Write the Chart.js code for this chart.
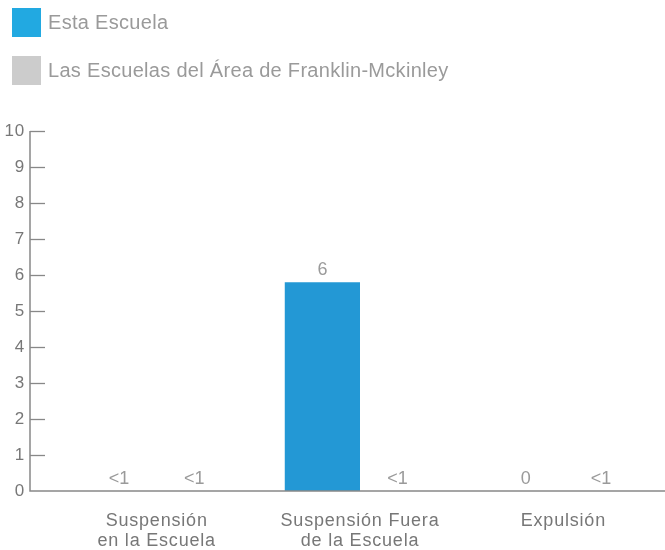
<!DOCTYPE html>
<html>
<head>
<meta charset="utf-8">
<script src="https://cdn.jsdelivr.net/npm/chart.js@4"></script>
<style>
  html, body { margin: 0; padding: 0; background: #fff; }
  #wrap { position: relative; width: 665px; height: 550px; }
  #legend { position: absolute; left: 0; top: 0; font-family: "Liberation Sans", Arial, sans-serif; font-size: 20px; letter-spacing: 0.3px; color: #9a9a9a; }
  .item { position: absolute; left: 12px; white-space: nowrap; }
  .sw { position: absolute; left: 0; top: 0; width: 29px; height: 29px; }
  .lt { position: absolute; left: 36px; top: 3px; line-height: 23px; }
  canvas { position: absolute; left: 0; top: 0; }
</style>
</head>
<body>
<div id="wrap">
  <canvas id="c" width="665" height="550"></canvas>
  <div id="legend"></div>
</div>
<script>
const categories = [["Suspensión", "en la Escuela"], ["Suspensión Fuera", "de la Escuela"], ["Expulsión"]];
const seriesNames = ["Esta Escuela", "Las Escuelas del Área de Franklin-Mckinley"];
const estaValues = [0, 5.8, 0];
const areaValues = [0, 0, 0];
const estaLabels = ["<1", "6", "0"];
const areaLabels = ["<1", "<1", "<1"];
const yTicks = [0, 1, 2, 3, 4, 5, 6, 7, 8, 9, 10];

const legendColors = ["#22a9e1", "#cccccc"];
const barColors = ["#2398d5", "#cccccc"];

// HTML legend
const legend = document.getElementById('legend');
seriesNames.forEach((name, i) => {
  const it = document.createElement('div');
  it.className = 'item';
  it.style.top = (8 + i * 48) + 'px';
  const sw = document.createElement('div');
  sw.className = 'sw';
  sw.style.background = legendColors[i];
  const t = document.createElement('div');
  t.className = 'lt';
  t.textContent = name;
  it.appendChild(sw); it.appendChild(t);
  legend.appendChild(it);
});

const FONT = '"Liberation Sans", Arial, sans-serif';
const AXIS_X = 30;

const spacingPlugin = {
  id: 'spacing',
  beforeDraw(chart) { chart.ctx.letterSpacing = '0px'; }
};

const axisPlugin = {
  id: 'customAxis',
  afterDraw(chart) {
    const ctx = chart.ctx;
    const y = chart.scales.y;
    ctx.save();
    ctx.strokeStyle = '#888888';
    ctx.lineWidth = 1.5;
    ctx.beginPath();
    ctx.moveTo(AXIS_X, y.getPixelForValue(yTicks[yTicks.length - 1]));
    ctx.lineTo(AXIS_X, y.getPixelForValue(0));
    ctx.lineTo(chart.width, y.getPixelForValue(0));
    ctx.stroke();
    ctx.lineWidth = 1.3;
    yTicks.forEach(v => {
      if (v === 0) return;
      const py = Math.round(y.getPixelForValue(v)) + 0.5;
      ctx.beginPath();
      ctx.moveTo(AXIS_X, py);
      ctx.lineTo(AXIS_X + 15, py);
      ctx.stroke();
    });
    ctx.restore();
  }
};

const labelPlugin = {
  id: 'valueLabels',
  afterDatasetsDraw(chart) {
    const ctx = chart.ctx;
    const sets = [estaLabels, areaLabels];
    ctx.save();
    ctx.font = '18px ' + FONT;
    ctx.fillStyle = '#9a9a9a';
    ctx.textAlign = 'center';
    ctx.textBaseline = 'middle';
    sets.forEach((labels, di) => {
      const meta = chart.getDatasetMeta(di);
      meta.data.forEach((bar, i) => {
        ctx.fillText(labels[i], bar.x, bar.y - 12);
      });
    });
    ctx.restore();
  }
};

// x tick labels get a little letter spacing to match the wider original face
const xSpacingPlugin = {
  id: 'xSpacing',
  beforeDraw(chart) { chart.ctx.letterSpacing = '0.8px'; },
  beforeDatasetsDraw(chart) { chart.ctx.letterSpacing = '0px'; }
};

new Chart(document.getElementById('c'), {
  type: 'bar',
  data: {
    labels: categories,
    datasets: [
      { label: seriesNames[0], data: estaValues, backgroundColor: barColors[0], categoryPercentage: 0.74, barPercentage: 1.0 },
      { label: seriesNames[1], data: areaValues, backgroundColor: barColors[1], categoryPercentage: 0.74, barPercentage: 1.0 }
    ]
  },
  options: {
    responsive: false,
    animation: false,
    events: [],
    layout: { padding: { top: 131, right: 0, left: 0, bottom: 0 } },
    plugins: { legend: { display: false }, tooltip: { enabled: false } },
    scales: {
      x: {
        grid: { display: false, drawTicks: false },
        border: { display: false },
        ticks: { color: '#777777', font: { family: FONT, size: 18, lineHeight: 1.1 }, padding: 20, maxRotation: 0 },
        afterFit(s) { s.height = 59; }
      },
      y: {
        min: 0, max: 10,
        grid: { display: false, drawTicks: false },
        border: { display: false },
        afterBuildTicks(s) { s.ticks = yTicks.map(v => ({ value: v })); },
        ticks: { color: '#777777', font: { family: FONT, size: 17 }, padding: 30 },
        afterFit(s) { s.width = 55; }
      }
    }
  },
  plugins: [xSpacingPlugin, axisPlugin, labelPlugin]
});
</script>
</body>
</html>
